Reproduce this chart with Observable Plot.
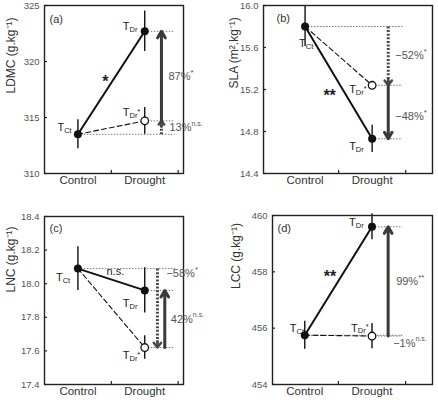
<!DOCTYPE html>
<html>
<head>
<meta charset="utf-8">
<script src="https://cdn.jsdelivr.net/npm/d3@7"></script>
<script src="https://cdn.jsdelivr.net/npm/@observablehq/plot@0.6"></script>
<style>
  body { margin: 0; background: #fff; }
  #fig { position: relative; width: 438px; height: 400px; overflow: hidden; background: #fff; }
  #fig > svg { position: absolute; }
</style>
</head>
<body>
<div id="fig"></div>
<script>
// Trait responses to drought: control (T_Ct), drought (T_Dr) and the
// drought prediction without plasticity (T_Dr*), for four leaf traits.
const treatments = ["Control", "Drought"];
const panelTags = ["(a)", "(b)", "(c)", "(d)"];
const traitNames = ["LDMC", "SLA", "LNC", "LCC"];
const traitUnits = ["(g.kg⁻¹)", "(m².kg⁻¹)", "(g.kg⁻¹)", "(g.kg⁻¹)"];

const meanCt = [313.5, 15.80, 18.09, 455.75];
const meanDr = [322.7, 14.73, 17.96, 459.6];
const meanDrStar = [314.7, 15.24, 17.62, 455.72];
const errCt = [1.3, 0.19, 0.13, 0.5];
const errDr = [1.8, 0.13, 0.135, 0.46];
const errDrStar = [1.2, 0.03, 0.07, 0.45];

const yDomains = [[310, 325], [14.4, 16.0], [17.4, 18.4], [454, 460]];
const yTicks = [
  [310, 315, 320, 325],
  [14.4, 14.8, 15.2, 15.6, 16.0],
  [17.4, 17.6, 17.8, 18.0, 18.2, 18.4],
  [454, 456, 458, 460]
];
const yTickFormats = ["d", ".1f", ".1f", "d"];

const slopeSig = ["*", "**", "n.s.", "**"];
const plasticPct = ["13%", "−52%", "−58%", "−1%"];
const plasticSig = ["n.s.", "*", "*", "n.s."];
const responsePct = ["87%", "−48%", "42%", "99%"];
const responseSig = ["*", "*", "n.s.", "**"];

// ---- layout of the four panels (pixels) ----
const frames = [
  {left: 0,   top: 0,   margin: [5, 36, 27, 44],  xDomain: [0.5, 2.58], tag: [5, 10], yLabel: [-33, 4]},
  {left: 219, top: 0,   margin: [5, 6, 27, 44],   xDomain: [0.38, 2.9], tag: [13, 9], yLabel: [-29.5, -1]},
  {left: 0,   top: 200, margin: [16, 36, 16, 44], xDomain: [0.5, 2.58], tag: [5, 8], yLabel: [-33, -8]},
  {left: 219, top: 200, margin: [15, 6, 16, 53],  xDomain: [0.52, 2.9], tag: [5, 9], yLabel: [-36.5, -11]}
];
const W = 219, H = 200;
const guideEnd = 2.45;                      // right end of the dotted reference lines
const arrowX = [[2.25, 2.25], [2.24, 2.24], [2.19, 2.30], [2.24, 2.24]]; // [plastic, response]
// offsets of the T labels from their points
const tOffsets = [
  {Ct: [-20.5, -7], Dr: [-22, -5], DrStar: [-22, -8]},
  {Ct: [-6, 17], Dr: [-23, 8], DrStar: [-23, 4]},
  {Ct: [-22, 9], Dr: [-22, 13], DrStar: [-22, 8]},
  {Ct: [-15, -7], Dr: [-23, -4], DrStar: [-21, -8]}
];
// percentage labels: [anchor ("mid" of the arrow or its "start"), dx, dy]
const pctPlace = [
  {plastic: ["mid", 8, 0], response: ["mid", 7, 0]},
  {plastic: ["mid", 7, 0], response: ["mid", 7, 4]},
  {plastic: ["start", 9, 5], response: ["mid", 6, 0]},
  {plastic: ["start", 5, 8], response: ["mid", 8, 0]}
];
// significance of the control→drought slope, offset from the segment midpoint
const sigPlace = [[-6, -1], [-9, 13], [4, -8], [-8.5, -4]];

const fontFamily = '"Liberation Sans", Arial, Helvetica, sans-serif';
const ctx = document.createElement("canvas").getContext("2d");
const textWidth = (s, size) => { ctx.font = `${size}px ${fontFamily}`; return ctx.measureText(s).width; };

// a label made of several runs (base text, subscripts, superscripts)
function rich(datum, parts, {dx = 0, dy = 0, fill = "#222"} = {}) {
  let offset = dx;
  return parts.map(([t, size, shift = 0]) => {
    const mark = Plot.text([datum], {
      x: "x", y: "y", text: () => t, fontSize: size, textAnchor: "start",
      dx: offset, dy: dy + shift, fill
    });
    offset += textWidth(t, size);
    return mark;
  });
}

const fig = document.getElementById("fig");

frames.forEach((f, i) => {
  const [mt, mr, mb, ml] = f.margin;
  const innerW = W - ml - mr, innerH = H - mt - mb;
  const yPx = d3.scaleLinear(yDomains[i], [H - mb, mt]);

  const pts = [
    {key: "Ct", x: 1, y: meanCt[i], e: errCt[i]},
    {key: "Dr", x: 2, y: meanDr[i], e: errDr[i]},
    {key: "DrStar", x: 2, y: meanDrStar[i], e: errDrStar[i]}
  ];
  const [ct, dr, drStar] = pts;

  const plastic = {x: arrowX[i][0], y1: ct.y, y2: drStar.y};
  const response = {x: arrowX[i][1], y1: drStar.y, y2: dr.y};
  const plasticLen = Math.abs(yPx(plastic.y1) - yPx(plastic.y2));
  const headLen = 6;

  const marks = [];

  // dotted reference levels
  marks.push(Plot.link(pts, {
    x1: "x", x2: () => guideEnd, y1: "y", y2: "y",
    stroke: "#777", strokeWidth: 1, strokeDasharray: "1.5,1.5"
  }));

  // reaction norms
  marks.push(Plot.line([ct, drStar], {x: "x", y: "y", stroke: "#111", strokeWidth: 1.1, strokeDasharray: "5,3"}));
  marks.push(Plot.line([ct, dr], {x: "x", y: "y", stroke: "#111", strokeWidth: 2}));

  // error bars
  marks.push(Plot.ruleX(pts, {x: "x", y1: d => d.y - d.e, y2: d => d.y + d.e, stroke: "#111", strokeWidth: 1.4}));

  // plastic component (dotted arrow)
  if (plasticLen > headLen + 1) {
    marks.push(Plot.link([plastic], {
      x1: "x", x2: "x", y1: "y1", y2: "y2",
      stroke: "#4a4a4a", strokeWidth: 3, strokeDasharray: "2,1.6", insetEnd: 2
    }));
    marks.push(Plot.arrow([plastic], {
      x1: "x", x2: "x", y1: "y1", y2: "y2",
      stroke: "#4a4a4a", strokeWidth: 2.5, headLength: headLen * 1.5 / 2.5, headAngle: 75,
      insetStart: plasticLen - headLen
    }));
  }
  // remaining response (solid arrow)
  marks.push(Plot.arrow([response], {
    x1: "x", x2: "x", y1: "y1", y2: "y2",
    stroke: "#3a3a3a", strokeWidth: 3, headLength: 3.8, headAngle: 60
  }));

  // points
  marks.push(Plot.dot([ct, dr], {x: "x", y: "y", r: 4, fill: "#111"}));
  marks.push(Plot.dot([drStar], {x: "x", y: "y", r: 3.8, fill: "white", stroke: "#111", strokeWidth: 1.3}));

  // frame, ticks and axis labels
  marks.push(Plot.frame({stroke: "#222", strokeWidth: 1.4}));
  marks.push(Plot.ruleY(yTicks[i], {y: d => d, insetRight: innerW - 3, stroke: "#222", strokeWidth: 1.2}));
  marks.push(Plot.ruleX([1.5, 2.5], {x: d => d, insetTop: innerH - 3, stroke: "#222", strokeWidth: 1.2}));
  marks.push(Plot.axisY(yTicks[i], {
    tickSize: 0, tickPadding: 5, tickFormat: d3.format(yTickFormats[i]),
    fontSize: 9.5, color: "#555", label: null
  }));
  marks.push(Plot.text(treatments, {
    x: (d, j) => j + 1, frameAnchor: "bottom", dy: 10.5, fontSize: 11.5, fill: "#333"
  }));
  marks.push(Plot.text([`${traitNames[i]} ${traitUnits[i]}`], {
    frameAnchor: "left", rotate: -90, dx: f.yLabel[0], dy: f.yLabel[1], fontSize: 12, fill: "#333"
  }));
  marks.push(Plot.text([panelTags[i]], {
    frameAnchor: "top-left", textAnchor: "start", dx: f.tag[0], dy: f.tag[1], fontSize: 11, fill: "#333"
  }));

  // T labels
  const sub = {Ct: [["T", 11], ["Ct", 7.5, 3]], Dr: [["T", 11], ["Dr", 7.5, 3]], DrStar: [["T", 11], ["Dr", 7.5, 3], ["*", 7.5, -1]]};
  pts.forEach(p => {
    const [dx, dy] = tOffsets[i][p.key];
    marks.push(...rich(p, sub[p.key], {dx, dy, fill: "#222"}));
  });

  // slope significance
  const mid = {x: 1.5, y: (ct.y + dr.y) / 2};
  const isStar = slopeSig[i].startsWith("*");
  marks.push(Plot.text([mid], {
    x: "x", y: "y", text: () => slopeSig[i], fontSize: isStar ? 16 : 11,
    dx: sigPlace[i][0], dy: sigPlace[i][1], fill: "#222", fontWeight: isStar ? "bold" : "normal"
  }));

  // percentage labels
  const pctLabel = (arrow, place, pct, sig) => {
    const [anchor, dx, dy] = place;
    const at = {x: arrow.x, y: anchor === "mid" ? (arrow.y1 + arrow.y2) / 2 : arrow.y1};
    return rich(at, [[pct, 11], [sig, sig === "n.s." ? 7 : 8, -4]], {dx, dy, fill: "#555"});
  };
  marks.push(...pctLabel(plastic, pctPlace[i].plastic, plasticPct[i], plasticSig[i]));
  marks.push(...pctLabel(response, pctPlace[i].response, responsePct[i], responseSig[i]));

  const svg = Plot.plot({
    width: W, height: H,
    marginTop: mt, marginRight: mr, marginBottom: mb, marginLeft: ml,
    style: {fontFamily, fontSize: "10px", color: "#222", background: "transparent"},
    x: {domain: f.xDomain, axis: null},
    y: {domain: yDomains[i], axis: null},
    marks
  });
  svg.style.left = f.left + "px";
  svg.style.top = f.top + "px";
  fig.appendChild(svg);
});
</script>
</body>
</html>
